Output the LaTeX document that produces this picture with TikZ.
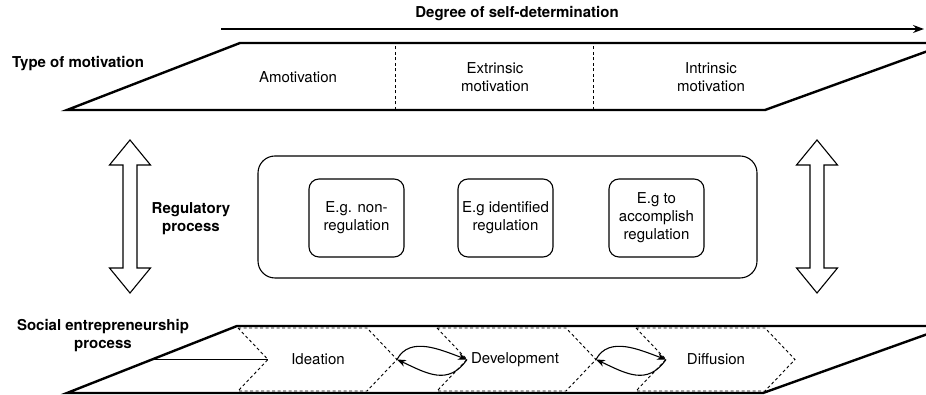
\documentclass[tikz,border=0pt]{standalone}
\usepackage{fontspec}
\setmainfont{TeX Gyre Heros}
\usetikzlibrary{arrows.meta}

\begin{document}
\begin{tikzpicture}[x=1pt, y=1pt,
        lbl/.style={font=\fontsize{15}{18}\selectfont, align=center, inner sep=0pt},
        boldlbl/.style={lbl, font=\fontsize{15}{18}\selectfont\bfseries},
        bandline/.style={line width=2.4pt, line join=miter},
        divider/.style={dash pattern=on 3pt off 2.5pt, line width=0.9pt},
        regbox/.style={lbl, draw, rounded corners=10pt, line width=1.1pt, minimum width=95pt, minimum height=78pt},
        cyclearrow/.style={line width=1.1pt, -{Stealth[length=9pt, width=7pt]}}]
        \useasboundingbox (0,0) rectangle (926,395);
        \clip (0,0) rectangle (926,395);

        % degree of self-determination
        \coordinate (dstart) at (221,366);
        \coordinate (dend) at (924,366);
        \draw [line width=1.3pt, -{Stealth[length=11pt, width=8pt]}] (dstart) -- (dend);
        \node[boldlbl] (degree) at (517,381) {Degree of self-determination};

        % type of motivation
        \node[boldlbl, anchor=west] (typemot) at (12,331) {Type of motivation};
        \draw[bandline] (67,285) -- (240,352) -- (950,352) -- (765,285) -- cycle;
        \draw[divider] (395,285) -- (395,352);
        \draw[divider] (593,285) -- (593,352);
        \node[lbl] (amot) at (298,318) {Amotivation};
        \node[lbl] (extrmot) at (495,318) {Extrinsic\\motivation};
        \node[lbl] (intrmot) at (711,318) {Intrinsic\\motivation};

        % regulatory process
        \node[boldlbl] (regproc) at (191,176) {Regulatory\\process};
        \node[draw, rounded corners=17pt, line width=1.1pt, minimum width=499pt, minimum height=122pt] (regframe) at (507.5,178) {};
        \node[regbox] (nonreg) at (356.5,177) {E.g. non-\\regulation};
        \node[regbox] (identreg) at (505.5,177) {E.g identified\\regulation};
        \node[regbox] (accreg) at (656.5,177) {E.g to\\accomplish\\regulation};
        \foreach \cx in {130,817}
            \draw[line width=1.1pt, line join=miter] (\cx,255) -- ++(20.5,-25) -- ++(-13.5,0) -- ++(0,-103)
                -- ++(13.5,0) -- ++(-20.5,-25) -- ++(-20.5,25) -- ++(13.5,0) -- ++(0,103) -- ++(-13.5,0) -- cycle;

        % social entrepreneurship process
        \node[boldlbl] (socent) at (103,59) {Social entrepreneurship\\process};
        \draw[bandline] (67,2) -- (237,69) -- (950,69) -- (763,2) -- cycle;
        \foreach \x/\name in {238/idea, 437/dev, 636/diff} {
            \draw[divider] (\x,67) -- ++(129,0) -- ++(30,-31.5) -- ++(-30,-31.5) -- ++(-129,0) -- ++(30,31.5) -- cycle;
            \coordinate (\name-notch) at (\x+30,35.5);
            \coordinate (\name-tip) at (\x+159,35.5);
        }
        \coordinate (sestart) at (150,35.5);
        \draw[line width=1pt] (sestart) -- (idea-notch);
        \node[lbl] (ideation) at (318,35.5) {Ideation};
        \node[lbl] (development) at (515,35.5) {Development};
        \node[lbl] (diffusion) at (716,35.5) {Diffusion};
        \draw[cyclearrow] (idea-tip) to[out=62, in=160] (dev-notch);
        \draw[cyclearrow] (dev-notch) to[out=-125, in=-25, looseness=1.2] (idea-tip);
        \draw[cyclearrow] (dev-tip) to[out=62, in=160] (diff-notch);
        \draw[cyclearrow] (diff-notch) to[out=-125, in=-25, looseness=1.2] (dev-tip);
    \end{tikzpicture}
\end{document}
